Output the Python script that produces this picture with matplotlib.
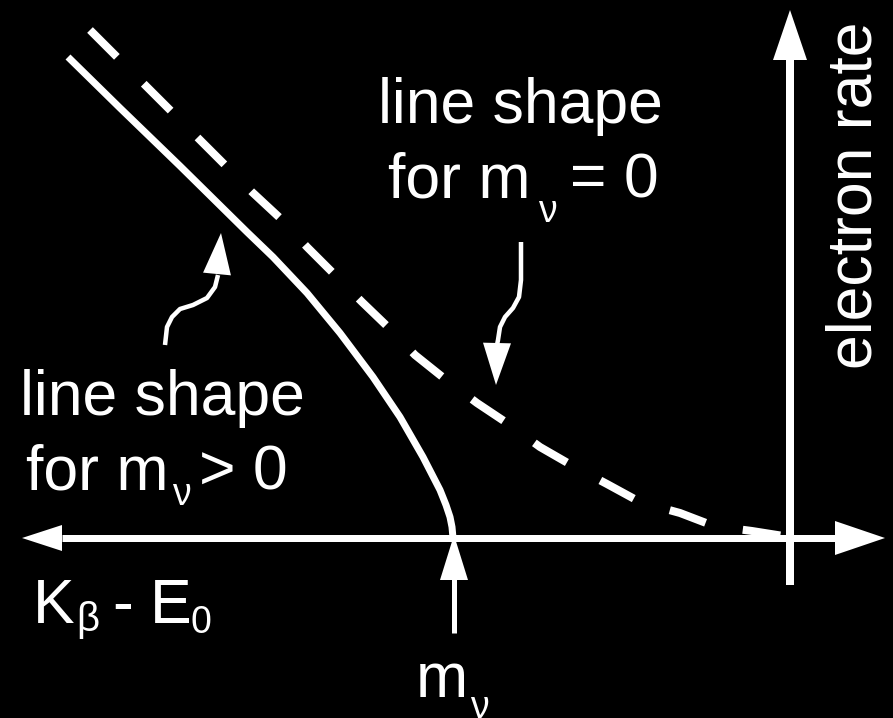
import matplotlib
matplotlib.use("Agg")
import matplotlib.pyplot as plt
import numpy as np

plt.rcParams['font.family'] = ['Liberation Sans', 'DejaVu Sans']

# end of the beta spectrum, drawn in canvas units (x right, y down)
massive_x = [68, 120, 180, 247, 273, 307, 340, 373, 400, 423, 440, 446, 450, 452, 453]
massive_y = [57, 108, 166, 232, 257, 293, 333, 377, 417, 457, 490, 505, 517, 527, 538]

massless_x = [90, 117, 143, 170, 197, 225, 252, 280, 307, 333, 362, 388, 415, 445,
              477, 507, 540, 573, 607, 640, 680, 714, 752, 790]
massless_y = [30, 57, 83, 110, 137, 165, 192, 218, 247, 273, 302, 327, 355, 379,
              403, 423, 447, 466, 484, 502, 513, 526, 531, 537]

# curly pointers from the labels to the curves
ptr_massive_x = [165, 167, 172, 180, 193, 207, 215, 218]
ptr_massive_y = [345, 327, 317, 309, 305, 298, 287, 275]
ptr_massless_x = [521, 521, 519, 513, 505, 500, 498, 497]
ptr_massless_y = [242, 280, 297, 308, 317, 327, 340, 345]

axis_y = 538      # energy axis
axis_x = 790      # rate axis (endpoint E0)
m_nu_x = 454      # endpoint shifted by the neutrino mass

PX = 0.72  # points per pixel at dpi 100
FS = 45    # main label size
FS_SUB = 27

fig = plt.figure(figsize=(8.93, 7.18), dpi=100, facecolor='black')
ax = fig.add_axes([0, 0, 1, 1])
ax.set_facecolor('black')
ax.set_xlim(0, 893)
ax.set_ylim(718, 0)
ax.axis('off')


def head(tip, base, half_width):
    tip = np.array(tip, float)
    base = np.array(base, float)
    d = tip - base
    n = np.array([-d[1], d[0]]) / np.hypot(*d)
    pts = np.array([tip, base + n * half_width, base - n * half_width])
    ax.fill(pts[:, 0], pts[:, 1], color='white', lw=0, zorder=5)


def label(x, y, s, size=FS, **kw):
    ax.text(x, y, s, color='white', fontsize=size, va='baseline', **kw)


# axes with arrowheads
ax.plot([62, 835], [axis_y, axis_y], color='white', lw=7 * PX, solid_capstyle='butt')
head((22, axis_y), (62, axis_y), 13)
head((885, axis_y), (835, axis_y), 17)
ax.plot([axis_x, axis_x], [585, 60], color='white', lw=8 * PX, solid_capstyle='butt')
head((axis_x, 10), (axis_x, 60), 17)

# spectra
ax.plot(massive_x, massive_y, color='white', lw=7 * PX, solid_capstyle='butt',
        solid_joinstyle='round')
ax.plot(massless_x, massless_y, color='white', lw=8 * PX,
        linestyle=(0, (4.75, 4.75)), dash_capstyle='butt')

# pointers
ax.plot(ptr_massive_x, ptr_massive_y, color='white', lw=4.5 * PX, solid_capstyle='butt')
head((221, 233), (217, 274), 14)
ax.plot(ptr_massless_x, ptr_massless_y, color='white', lw=4.5 * PX, solid_capstyle='butt')
head((496, 385), (497, 343), 14)
ax.plot([m_nu_x, m_nu_x], [633, 578], color='white', lw=5 * PX, solid_capstyle='butt')
head((m_nu_x, 535), (m_nu_x, 580), 14)

# labels (subscripts set by hand, dropped below the baseline)
label(520, 123, 'line shape', ha='center')
label(388, 197, 'for m')
label(538, 222, 'ν', FS_SUB)
label(570, 197, '= 0')

label(162, 415, 'line shape', ha='center')
label(26, 490, 'for m')
label(172, 505, 'ν', FS_SUB)
label(199, 490, '> 0')

label(33, 623, 'K')
label(76, 631, 'β', 29)
label(112, 623, '-')
label(150, 623, 'E')
label(191, 633, '0', FS_SUB)

label(416, 697, 'm')
label(470, 718, 'ν', FS_SUB)

label(872, 195, 'electron rate', ha='center', rotation=90, rotation_mode='anchor')

fig.savefig('out.png', dpi=100, facecolor='black')
